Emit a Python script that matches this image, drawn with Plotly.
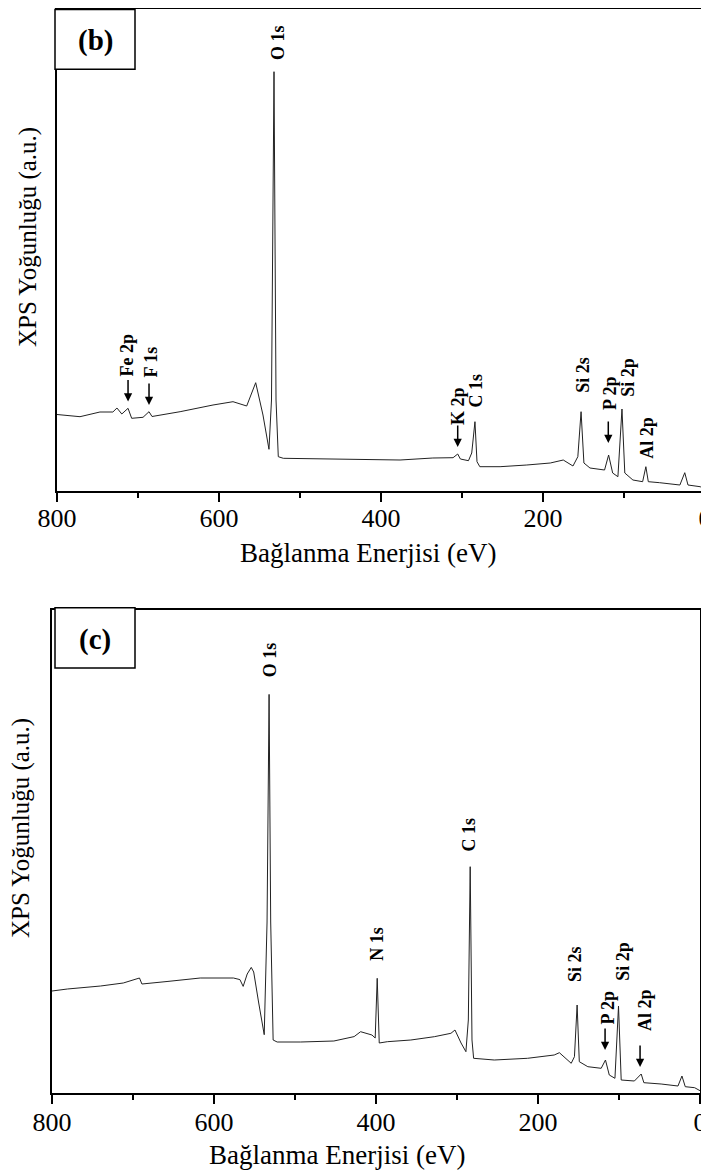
import plotly.graph_objects as go

# ---------------- data ----------------
# Panel (b): binding energy (eV) and intensity (a.u.)
energy_b = [800, 771.6, 747, 731, 726, 720, 712.3, 707.8, 693.8, 686.4, 682.7, 648,
            607.4, 582.7, 565.8, 554.7, 545.7, 538.3, 535.2, 532.1, 529.6, 526.8,
            520.6, 459, 426, 376.5, 336, 311, 305.3, 302, 292, 288, 284, 281.5, 278,
            253, 220, 191, 175, 163, 157, 153, 149.5, 142, 124, 119, 114, 107.5,
            102.5, 99, 89, 77, 73, 70, 56, 31, 25, 21, 6, 0]
intensity_b = [76.5, 74.3, 79, 79, 83, 77, 82.7, 72.7, 73.7, 79.3, 74.5, 79.3,
               86, 89.3, 85, 108.3, 76, 41.7, 91, 419.3, 91, 34.3,
               32.7, 32, 31, 31, 33, 33.3, 37, 32, 30.3, 38, 69.3, 29.3, 24.3,
               24.3, 26, 28, 31, 25, 34.3, 79.3, 28, 23, 21, 36, 18, 14.3,
               82, 18, 11, 9.3, 24.3, 9.3, 8.3, 6, 18.3, 6, 4.3, 2]

# Panel (c)
energy_c = [800, 781, 740, 712, 692, 689, 658, 633, 617, 576, 568, 564, 559, 554,
            551, 545, 538, 534.5, 532, 530, 527, 522, 493, 452, 427, 419, 405, 401,
            398.5, 396, 386, 357, 328, 307.5, 302.5, 295, 289, 286, 283.7, 281.5,
            279.5, 254, 213, 180, 173.6, 159, 155, 151.7, 149, 138.5, 122, 116.7,
            112, 105, 100.6, 97.3, 81, 72.6, 69.3, 48, 27.2, 22.3, 18.2, 6.6, 0]
intensity_c = [102, 104, 107, 110, 115, 109, 111.5, 114, 115, 115, 113.4, 106.6, 119, 125.6,
               121, 91, 58.3, 171, 398.6, 171, 53, 51, 51, 52, 56.4, 61.3, 58, 55,
               114.7, 50, 51.3, 53, 56.3, 59.7, 63, 50, 41.3, 73, 226.3, 53,
               34.7, 33, 34.7, 38, 40.3, 29.7, 36.3, 88, 31.3, 26.3, 24.7, 33,
               18, 14.7, 87, 13, 12, 19, 10.3, 9, 7, 17, 6.3, 5.3, 2.3]

tick_values = [0, 200, 400, 600, 800]
tick_labels = ["0", "200", "400", "600", "800"]

peak_names_b = ["O 1s", "Fe 2p", "F 1s", "K 2p", "C 1s", "Si 2s", "P 2p", "Si 2p", "Al 2p"]
peak_names_c = ["O 1s", "N 1s", "C 1s", "Si 2s", "P 2p", "Si 2p", "Al 2p"]

x_title = "Bağlanma Enerjisi (eV)"
y_title = "XPS Yoğunluğu (a.u.)"
panel_labels = ["(b)", "(c)"]

# ---------------- layout helpers ----------------
# The page body has an 8 px margin, so the figure is sized to fill the rest of the
# 709x1176 window and page pixel positions are converted to figure fractions.
OFF = 8
W, H = 709 - OFF, 1176 - OFF
def px(x):
    return (x - OFF) / W
def py(y):
    return 1 - (y - OFF) / H

SERIF = "Liberation Serif"

# label positions (energy, intensity) for text, and optional arrow tips (energy, intensity)
label_pos_b = {
    "O 1s": (527.2, 449, None),
    "Fe 2p": (713, 136, (712.3, 89.5)),
    "F 1s": (684.5, 129, (686.4, 86)),
    "K 2p": (305, 85, (305.3, 44)),
    "C 1s": (283.3, 100, None),
    "Si 2s": (151, 116, None),
    "P 2p": (117.3, 98, (119.4, 48)),
    "Si 2p": (95.4, 114, None),
    "Al 2p": (72, 53, None),
}
label_pos_c = {
    "O 1s": (530.6, 433, None),
    "N 1s": (399, 149, None),
    "C 1s": (285.7, 258, None),
    "Si 2s": (154.3, 129, None),
    "P 2p": (113.1, 86, (117.2, 43)),
    "Si 2p": (95.4, 132, None),
    "Al 2p": (67.8, 83, (74, 26)),
}

fig = go.Figure()
fig.add_trace(go.Scatter(x=energy_b, y=intensity_b, mode="lines",
                         line=dict(color="#222222", width=1), xaxis="x", yaxis="y",
                         showlegend=False, hoverinfo="x+y"))
fig.add_trace(go.Scatter(x=energy_c, y=intensity_c, mode="lines",
                         line=dict(color="#222222", width=1), xaxis="x2", yaxis="y2",
                         showlegend=False, hoverinfo="x+y"))

def xaxis_cfg(domain, anchor, standoff):
    return dict(domain=domain, anchor=anchor, range=[800, 0], autorange=False,
                automargin=False, ticklabeloverflow="allow",
                tickmode="array", tickvals=tick_values, ticktext=tick_labels,
                ticks="outside", ticklen=9, tickwidth=2, tickcolor="black",
                ticklabelstandoff=standoff,
                minor=dict(tickvals=[100, 300, 500, 700], ticks="outside", ticklen=5,
                           tickwidth=2, tickcolor="black"),
                showline=True, linecolor="black", linewidth=2, mirror=True,
                showgrid=False, zeroline=False,
                tickfont=dict(family=SERIF, size=26, color="black"))

def yaxis_cfg(domain, anchor, top):
    return dict(domain=domain, anchor=anchor, range=[0, top], autorange=False,
                automargin=False,
                showticklabels=False, ticks="", showline=True, linecolor="black",
                linewidth=2, mirror=True, showgrid=False, zeroline=False)

fig.update_layout(
    template="none",
    width=W, height=H, autosize=False,
    margin=dict(l=0, r=0, t=0, b=0, pad=0),
    paper_bgcolor="white", plot_bgcolor="white",
    font=dict(family=SERIF, color="black"),
    showlegend=False,
    xaxis=xaxis_cfg([px(57), px(705)], "y", -6),
    yaxis=yaxis_cfg([py(491), py(8.5)], "x", 482.5),
    xaxis2=xaxis_cfg([px(52), px(700)], "y2", -4),
    yaxis2=yaxis_cfg([py(1093), py(610)], "x2", 483),
)

annotations = []
# axis titles
annotations.append(dict(text=x_title, x=px(368), y=py(553), xref="paper", yref="paper",
                        showarrow=False, xanchor="center", yanchor="middle",
                        font=dict(family=SERIF, size=27, color="black")))
annotations.append(dict(text=x_title, x=px(337), y=py(1155), xref="paper", yref="paper",
                        showarrow=False, xanchor="center", yanchor="middle",
                        font=dict(family=SERIF, size=27, color="black")))
annotations.append(dict(text=y_title, x=px(28), y=py(237), xref="paper", yref="paper",
                        showarrow=False, xanchor="center", yanchor="middle", textangle=-90,
                        font=dict(family=SERIF, size=25, color="black")))
annotations.append(dict(text=y_title, x=px(21), y=py(828), xref="paper", yref="paper",
                        showarrow=False, xanchor="center", yanchor="middle", textangle=-90,
                        font=dict(family=SERIF, size=25, color="black")))
# panel labels
annotations.append(dict(text=panel_labels[0], x=px(95), y=py(40), xref="paper", yref="paper",
                        showarrow=False, xanchor="center", yanchor="middle",
                        font=dict(family=SERIF, size=29, color="black", weight="bold")))
annotations.append(dict(text=panel_labels[1], x=px(95), y=py(639), xref="paper", yref="paper",
                        showarrow=False, xanchor="center", yanchor="middle",
                        font=dict(family=SERIF, size=29, color="black", weight="bold")))

def add_peak_labels(names, pos, xr, yr):
    for name in names:
        ex, iy, tip = pos[name]
        annotations.append(dict(text=name, x=ex, y=iy, xref=xr, yref=yr, showarrow=False,
                                textangle=-90, xanchor="center", yanchor="middle",
                                font=dict(family=SERIF, size=18, color="black", weight="bold")))
        if tip is not None:
            annotations.append(dict(text="", x=tip[0], y=tip[1], xref=xr, yref=yr,
                                    showarrow=True, arrowhead=2, arrowsize=1.1, arrowwidth=1.5,
                                    arrowcolor="black", ax=0, ay=-23, standoff=0))

add_peak_labels(peak_names_b, label_pos_b, "x", "y")
add_peak_labels(peak_names_c, label_pos_c, "x2", "y2")

shapes = []
for (x0, y0, x1, y1) in [(55, 9.5, 135, 69.3), (55, 607.7, 135, 668)]:
    shapes.append(dict(type="rect", xref="paper", yref="paper",
                       x0=px(x0), x1=px(x1), y0=py(y1), y1=py(y0),
                       line=dict(color="black", width=1.5), fillcolor="white", layer="above"))

fig.update_layout(annotations=annotations, shapes=shapes)
fig.write_html("out.html")
